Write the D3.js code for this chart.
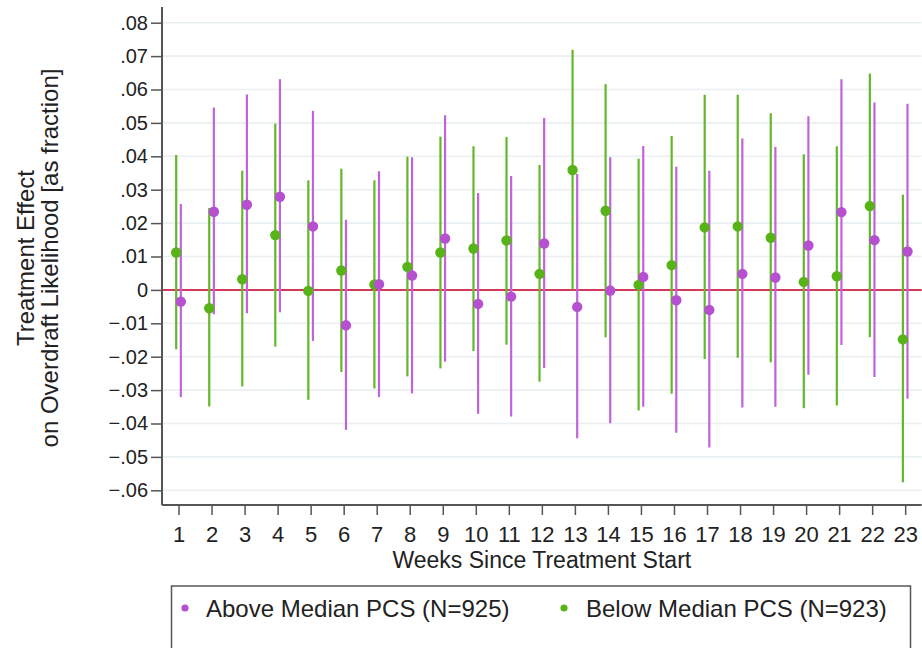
<!DOCTYPE html>
<html>
<head>
<meta charset="utf-8">
<script src="https://cdn.jsdelivr.net/npm/d3@7"></script>
<style>
  html, body { margin: 0; padding: 0; background: #ffffff; }
  svg { display: block; font-family: "Liberation Sans", Arial, sans-serif; }
</style>
</head>
<body>
<svg id="chart" width="922" height="648"></svg>
<script>
// Weekly treatment effects with 95% confidence intervals
const weeks = d3.range(1, 24);

// Above-median PCS group
const aboveEst = [-0.0035, 0.0234, 0.0255, 0.0279, 0.0190, -0.0106, 0.0017, 0.0043, 0.0154, -0.0042, -0.0020, 0.0139,
  -0.0051, -0.0002, 0.0039, -0.0031, -0.0060, 0.0048, 0.0037, 0.0133, 0.0233, 0.0149, 0.0115];
const aboveLo = [-0.0321, -0.0073, -0.0070, -0.0067, -0.0153, -0.0419, -0.0321, -0.0310, -0.0215, -0.0371, -0.0379, -0.0234,
  -0.0444, -0.0399, -0.0350, -0.0428, -0.0472, -0.0352, -0.0350, -0.0254, -0.0165, -0.0261, -0.0326];
const aboveHi = [0.0257, 0.0546, 0.0585, 0.0631, 0.0536, 0.0210, 0.0355, 0.0397, 0.0523, 0.0290, 0.0341, 0.0515,
  0.0347, 0.0397, 0.0431, 0.0369, 0.0357, 0.0453, 0.0428, 0.0520, 0.0631, 0.0561, 0.0557];

// Below-median PCS group
const belowEst = [0.0112, -0.0055, 0.0032, 0.0164, -0.0003, 0.0058, 0.0016, 0.0069, 0.0112, 0.0124, 0.0148, 0.0048,
  0.0359, 0.0237, 0.0015, 0.0074, 0.0187, 0.0190, 0.0156, 0.0024, 0.0041, 0.0251, -0.0148];
const belowLo = [-0.0178, -0.0349, -0.0289, -0.0170, -0.0329, -0.0246, -0.0295, -0.0259, -0.0235, -0.0183, -0.0164, -0.0275,
  0.0002, -0.0142, -0.0361, -0.0311, -0.0207, -0.0203, -0.0217, -0.0354, -0.0346, -0.0142, -0.0576];
const belowHi = [0.0404, 0.0245, 0.0357, 0.0498, 0.0328, 0.0363, 0.0328, 0.0399, 0.0459, 0.0430, 0.0458, 0.0374,
  0.0719, 0.0616, 0.0393, 0.0461, 0.0584, 0.0584, 0.0529, 0.0406, 0.0430, 0.0648, 0.0285];

const yTicks = [-0.06, -0.05, -0.04, -0.03, -0.02, -0.01, 0, 0.01, 0.02, 0.03, 0.04, 0.05, 0.06, 0.07, 0.08];

const seriesNames = ["Above Median PCS (N=925)", "Below Median PCS (N=923)"];
const purple = "#b64fd0", purpleLine = "#c163da";
const green = "#57b318", greenLine = "#62b829";

const svg = d3.select("#chart");
const plot = { left: 162, right: 921.7, top: 7, bottom: 505 };

const x = d3.scaleLinear().domain([0.5, 23.5]).range([plot.left, plot.right]);
const y = d3.scaleLinear().domain([-0.0644, 0.0847]).range([plot.bottom, plot.top]);
const dodge = 0.07;

const fmt = d => d === 0 ? "0" : d3.format(".2f")(d).replace("0.", ".");

// Horizontal gridlines
svg.append("g").selectAll("line").data(yTicks).join("line")
  .attr("x1", plot.left).attr("x2", plot.right)
  .attr("y1", d => y(d)).attr("y2", d => y(d))
  .attr("stroke", "#e9eff2").attr("stroke-width", 1.6);

// Zero reference line
svg.append("line")
  .attr("x1", plot.left).attr("x2", plot.right)
  .attr("y1", y(0)).attr("y2", y(0))
  .attr("stroke", "#d4395a").attr("stroke-width", 2);

// Y axis
const yAxis = svg.append("g").attr("transform", `translate(${plot.left},0)`)
  .call(d3.axisLeft(y).tickValues(yTicks).tickFormat(fmt).tickSize(11).tickPadding(3));
yAxis.select(".domain").attr("d", `M0,${plot.top}V${plot.bottom}`).attr("stroke", "#555").attr("stroke-width", 2);
yAxis.selectAll(".tick line").attr("stroke", "#555").attr("stroke-width", 1.5);
yAxis.selectAll(".tick text").attr("font-size", 20).attr("fill", "#222")
  .attr("font-family", "Liberation Sans, Arial, sans-serif");

// X axis
const xAxis = svg.append("g").attr("transform", `translate(0,${plot.bottom})`)
  .call(d3.axisBottom(x).tickValues(weeks).tickFormat(d3.format("d")).tickSize(10).tickPadding(11));
xAxis.select(".domain").attr("d", `M${plot.left},0H${plot.right}`).attr("stroke", "#555").attr("stroke-width", 2);
xAxis.selectAll(".tick line").attr("stroke", "#555").attr("stroke-width", 1.5);
xAxis.selectAll(".tick text")
  .attr("dy", null).attr("y", 37)
  .attr("font-size", 22).attr("fill", "#222")
  .attr("font-family", "Liberation Sans, Arial, sans-serif");

// Axis titles
svg.append("text")
  .attr("x", (plot.left + plot.right) / 2).attr("y", 568)
  .attr("text-anchor", "middle").attr("font-size", 23).attr("fill", "#222")
  .text("Weeks Since Treatment Start");

const yMid = (plot.top + plot.bottom) / 2 + 2;
svg.append("text")
  .attr("transform", `translate(34,${yMid}) rotate(-90)`)
  .attr("text-anchor", "middle").attr("font-size", 24).attr("fill", "#222")
  .text("Treatment Effect");
svg.append("text")
  .attr("transform", `translate(58,${yMid}) rotate(-90)`)
  .attr("text-anchor", "middle").attr("font-size", 24).attr("fill", "#222")
  .text("on Overdraft Likelihood [as fraction]");

// Build per-series records
const below = weeks.map((w, i) => ({ w, est: belowEst[i], lo: belowLo[i], hi: belowHi[i] }));
const above = weeks.map((w, i) => ({ w, est: aboveEst[i], lo: aboveLo[i], hi: aboveHi[i] }));

// Confidence interval spikes
svg.append("g").selectAll("line").data(below).join("line")
  .attr("x1", d => x(d.w - dodge)).attr("x2", d => x(d.w - dodge))
  .attr("y1", d => y(d.lo)).attr("y2", d => y(d.hi))
  .attr("stroke", greenLine).attr("stroke-width", 2.2);
svg.append("g").selectAll("line").data(above).join("line")
  .attr("x1", d => x(d.w + dodge)).attr("x2", d => x(d.w + dodge))
  .attr("y1", d => y(d.lo)).attr("y2", d => y(d.hi))
  .attr("stroke", purpleLine).attr("stroke-width", 2.2);

// Point estimates
svg.append("g").selectAll("circle").data(below).join("circle")
  .attr("cx", d => x(d.w - dodge)).attr("cy", d => y(d.est)).attr("r", 5.2)
  .attr("fill", green);
svg.append("g").selectAll("circle").data(above).join("circle")
  .attr("cx", d => x(d.w + dodge)).attr("cy", d => y(d.est)).attr("r", 5.2)
  .attr("fill", purple);

// Legend
const legend = svg.append("g");
legend.append("rect")
  .attr("x", 171.5).attr("y", 586).attr("width", 739).attr("height", 80)
  .attr("fill", "none").attr("stroke", "#555").attr("stroke-width", 1.5);
const legendItems = [
  { name: seriesNames[0], color: purple, dotX: 185, textX: 206 },
  { name: seriesNames[1], color: green, dotX: 564, textX: 586 }
];
legendItems.forEach(it => {
  legend.append("circle").attr("cx", it.dotX).attr("cy", 608).attr("r", 3.6).attr("fill", it.color);
  legend.append("text").attr("x", it.textX).attr("y", 617)
    .attr("font-size", 24).attr("fill", "#222").text(it.name);
});
</script>
</body>
</html>
